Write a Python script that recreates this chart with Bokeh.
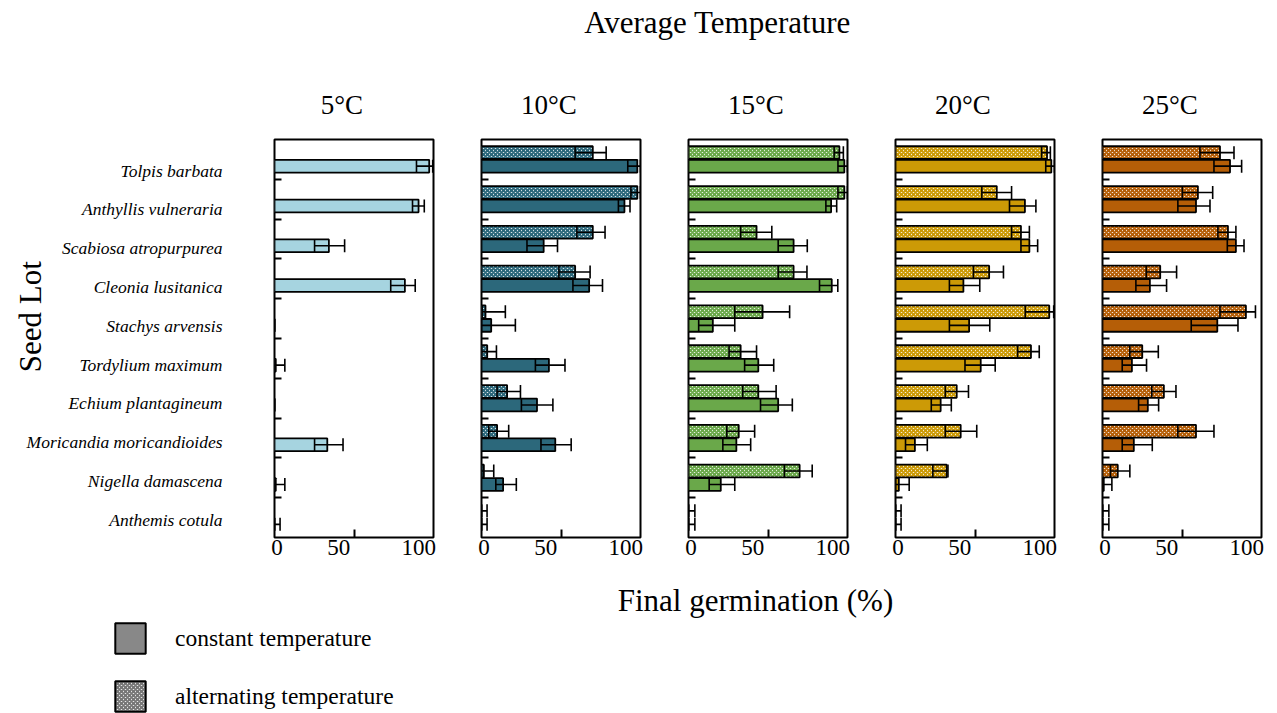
from math import pi

from bokeh.core.properties import value
from bokeh.embed import file_html
from bokeh.layouts import column, row
from bokeh.models import (ColumnDataSource, FixedTicker, Label, Legend,
                          LegendItem, Range1d, TeeHead, Whisker)
from bokeh.plotting import figure
from bokeh.resources import INLINE

# ---------------- data ----------------
SEED_LOTS = ["Tolpis barbata", "Anthyllis vulneraria", "Scabiosa atropurpurea",
             "Cleonia lusitanica", "Stachys arvensis", "Tordylium maximum",
             "Echium plantagineum", "Moricandia moricandioides",
             "Nigella damascena", "Anthemis cotula"]
TEMPS = ["5°C", "10°C", "15°C", "20°C", "25°C"]
COLORS = ["#a6d4e0", "#2c687b", "#6aa84a", "#cc9a06", "#b55e07"]
X_TICK_LABELS = ["0", "50", "100"]

# constant temperature: mean, lower and upper ends of error bars (%)
CONST_5_MEAN = [97.3, 90.6, 34.2, 82.0, 0, 0.8, 0, 33.2, 0.8, 0]
CONST_5_LO = [89.3, 86.8, 25.2, 73.1, 0, 0, 0, 25.2, 0, 0]
CONST_5_HI = [99.5, 94.2, 44.1, 88.5, 0, 6.5, 0, 43.1, 6.5, 3.5]

CONST_10_MEAN = [98, 89.9, 39.1, 67.7, 6.1, 42.4, 34.9, 46.4, 13.6, 0]
CONST_10_LO = [92, 86.1, 28.6, 57.5, 0, 33.9, 25.1, 37.4, 9.0, 0]
CONST_10_HI = [100, 93.4, 47.8, 76.1, 21.3, 52.5, 44.9, 56.4, 21.9, 3.5]

CONST_15_MEAN = [98, 89.7, 66.1, 90.1, 15.3, 43.9, 56.4, 30.1, 20.3, 0]
CONST_15_LO = [94, 86.4, 56.4, 82.4, 6.4, 35.3, 45.3, 21.6, 13.0, 0]
CONST_15_HI = [100, 93.2, 74.7, 93.9, 29.1, 53.6, 65.3, 39.1, 29.1, 4]

CONST_20_MEAN = [98, 81.4, 84.2, 42.7, 46.3, 53.6, 28.4, 12.2, 2.1, 0]
CONST_20_LO = [94.5, 71.7, 78.9, 33.9, 33.9, 43.7, 22.5, 6.3, 0, 0]
CONST_20_HI = [100, 88.3, 89.4, 53.0, 59.3, 62.7, 35.1, 20.0, 8.6, 3.5]

CONST_25_MEAN = [80.2, 58.8, 83.9, 29.8, 72.2, 18.5, 28.5, 19.7, 0.8, 0]
CONST_25_LO = [70.1, 47.4, 78.5, 21.0, 55.8, 12.4, 22.7, 12.4, 0, 0]
CONST_25_HI = [87.5, 67.6, 89.0, 40.3, 85.2, 27.7, 35.3, 31.3, 5.9, 4]

# alternating temperature (no alternating treatment at 5°C)
ALT_10_MEAN = [70.0, 98, 70.0, 58.9, 2.5, 3.6, 16.1, 9.8, 1.5, 0]
ALT_10_LO = [58.9, 94, 60.0, 48.7, 0.4, 0, 9.8, 4.6, 0, 0]
ALT_10_HI = [78.4, 100, 77.7, 68.3, 15.0, 9.4, 24.5, 17.1, 7.7, 3.5]

ALT_15_MEAN = [94.9, 98, 42.8, 66.1, 46.6, 32.8, 43.9, 31.6, 69.9, 0]
ALT_15_LO = [91.6, 94, 32.8, 56.4, 29.1, 25.5, 34.1, 24.1, 60.3, 0]
ALT_15_HI = [97.4, 100, 52.4, 74.5, 63.6, 42.8, 55.1, 41.6, 77.8, 4]

ALT_20_MEAN = [95.3, 63.7, 78.9, 58.9, 96.7, 85.2, 38.5, 41.0, 32.2, 0]
ALT_20_LO = [91.9, 54.3, 73.0, 49.0, 81.6, 76.8, 31.3, 31.3, 23.5, 0]
ALT_20_HI = [97.4, 73.0, 84.2, 67.9, 99.5, 90.4, 45.9, 51.1, 33.0, 3.5]

ALT_25_MEAN = [73.9, 60.0, 78.9, 36.3, 90.2, 25.0, 38.6, 58.8, 9.6, 0]
ALT_25_LO = [61.3, 50.2, 72.6, 27.5, 73.9, 17.2, 31.0, 47.4, 5.0, 0]
ALT_25_HI = [82.7, 69.3, 83.9, 46.6, 96.2, 35.1, 46.2, 70.1, 17.2, 4]

CONST = [(CONST_5_MEAN, CONST_5_LO, CONST_5_HI),
         (CONST_10_MEAN, CONST_10_LO, CONST_10_HI),
         (CONST_15_MEAN, CONST_15_LO, CONST_15_HI),
         (CONST_20_MEAN, CONST_20_LO, CONST_20_HI),
         (CONST_25_MEAN, CONST_25_LO, CONST_25_HI)]
ALT = [None,
       (ALT_10_MEAN, ALT_10_LO, ALT_10_HI),
       (ALT_15_MEAN, ALT_15_LO, ALT_15_HI),
       (ALT_20_MEAN, ALT_20_LO, ALT_20_HI),
       (ALT_25_MEAN, ALT_25_LO, ALT_25_HI)]

# ---------------- style / layout ----------------
FONT = "Liberation Serif"
N = len(SEED_LOTS)
IDX = list(range(N))
BAR_OFF = 0.17
BAR_H = 0.32
HATCH = dict(hatch_pattern="diagonal_cross", hatch_scale=4, hatch_weight=2)
TOP, FRAME_W, FRAME_H, BOTTOM = 3, 159, 398, 43
GAP = 48                      # space between neighbouring frames
HEADER_H, FOOT_H = 136, 133
LEFT_W = 264
FIRST_FRAME_X = LEFT_W + 10
TOTAL_W = LEFT_W + 193 + 3 * 207 + 187
LABEL_POS = [0.28 + 0.975 * i for i in IDX]   # placement of species labels
TITLE_FRAC = 0.424                            # panel-title x position in frame


def style_panel(p):
    p.grid.visible = False
    p.outline_line_color = "black"
    p.outline_line_width = 2
    p.background_fill_color = "white"
    p.border_fill_color = "white"
    xa = p.xaxis[0]
    label_pos = [1.5, 40.4, 90.8]
    xa.ticker = FixedTicker(ticks=label_pos, minor_ticks=[50])
    xa.major_label_overrides = {k: v for k, v in zip(label_pos, X_TICK_LABELS)}
    xa.axis_line_color = None
    xa.major_tick_line_color = None
    xa.major_tick_out = 0
    xa.minor_tick_in = 8
    xa.minor_tick_out = 0
    xa.minor_tick_line_width = 2
    xa.major_label_standoff = 2
    xa.major_label_text_font = FONT
    xa.major_label_text_font_size = "23px"
    xa.major_label_text_color = "black"

    ya = p.yaxis[0]
    ya.ticker = FixedTicker(ticks=[], minor_ticks=[i + 0.5 for i in IDX[:-1]])
    ya.axis_line_color = None
    ya.major_tick_line_color = None
    ya.major_tick_out = 0
    ya.minor_tick_in = 7
    ya.minor_tick_out = 0
    ya.minor_tick_line_width = 2
    ya.major_label_standoff = 0


def add_series(p, mean, lo, hi, offset, color, hatched):
    src = ColumnDataSource(dict(y=[i + offset for i in IDX], mean=mean,
                                lo=lo, hi=[min(h, 100) for h in hi]))
    kw = dict(y="y", left=0, right="mean", height=BAR_H, source=src,
              line_color="black", line_width=1.8)
    if hatched:
        p.hbar(fill_color="white", hatch_color=color, **HATCH, **kw)
    else:
        p.hbar(fill_color=color, **kw)
    w = Whisker(source=src, base="y", lower="lo", upper="hi", dimension="width",
                line_color="black", line_width=1.6, level="overlay",
                lower_head=TeeHead(size=13, line_width=1.6, line_color="black"),
                upper_head=TeeHead(size=13, line_width=1.6, line_color="black"))
    p.add_layout(w)


def blank(p):
    p.grid.visible = False
    p.outline_line_color = None
    p.background_fill_color = "white"
    p.border_fill_color = "white"


# left strip: species names and "Seed Lot"
left = figure(width=LEFT_W, frame_height=FRAME_H, min_border_top=TOP,
              min_border_bottom=BOTTOM, min_border_left=0, min_border_right=0,
              x_range=Range1d(0, LEFT_W), y_range=Range1d(9.5, -0.5),
              x_axis_location=None, y_axis_location=None,
              output_backend="svg", toolbar_location=None)
blank(left)
left.text(x=[222] * N, y=LABEL_POS, text=SEED_LOTS, text_align="right",
          text_baseline="middle", text_font=value(FONT),
          text_font_style="italic", text_font_size="17.5px", text_color="black")
left.add_layout(Label(x=30, y=3.95, text="Seed Lot", angle=pi / 2,
                      text_font=FONT, text_font_size="31px",
                      text_align="center", text_baseline="middle",
                      text_color="black"))

panels = [left]
for k, temp in enumerate(TEMPS):
    first = k == 0
    last = k == len(TEMPS) - 1
    p = figure(frame_width=FRAME_W, frame_height=FRAME_H,
               x_range=Range1d(0, 100), y_range=Range1d(9.5, -0.5),
               min_border_left=10 if first else GAP // 2,
               min_border_right=4 if last else GAP // 2,
               min_border_top=TOP, min_border_bottom=BOTTOM,
               output_backend="svg", toolbar_location=None)
    style_panel(p)
    if ALT[k] is not None:
        add_series(p, *ALT[k], -BAR_OFF, COLORS[k], True)
    add_series(p, *CONST[k], BAR_OFF, COLORS[k], False)
    panels.append(p)

# header: overall title + panel titles
header = figure(width=TOTAL_W, height=HEADER_H, x_range=Range1d(0, TOTAL_W),
                y_range=Range1d(HEADER_H, 0), min_border=0, x_axis_location=None,
                y_axis_location=None, output_backend="svg",
                toolbar_location=None)
blank(header)
header.add_layout(Label(x=717, y=22, text="Average Temperature", text_font=FONT,
                        text_font_size="31px", text_align="center",
                        text_baseline="middle", text_color="black"))
title_x = [FIRST_FRAME_X + k * (FRAME_W + GAP) + TITLE_FRAC * FRAME_W
           for k in range(len(TEMPS))]
header.text(x=title_x, y=[104] * len(TEMPS), text=TEMPS, text_align="center",
            text_baseline="middle", text_font=value(FONT),
            text_font_size="27px", text_color="black")

# footer (x label + legend)
footer = figure(width=TOTAL_W, height=FOOT_H, x_range=Range1d(0, TOTAL_W),
                y_range=Range1d(FOOT_H, 0), min_border=0, x_axis_location=None,
                y_axis_location=None, output_backend="svg",
                toolbar_location=None)
blank(footer)
footer.add_layout(Label(x=755, y=20, text="Final germination (%)", text_font=FONT,
                        text_font_size="31px", text_align="center",
                        text_baseline="middle", text_color="black"))
nan_src = ColumnDataSource(dict(y=[float("nan")], right=[float("nan")]))
r_const = footer.hbar(y="y", left=0, right="right", height=1, source=nan_src,
                      fill_color="#888888", line_color="black", line_width=2)
r_alt = footer.hbar(y="y", left=0, right="right", height=1, source=nan_src,
                    fill_color="white", hatch_color="#777777", line_color="black",
                    line_width=2, **HATCH)
legend = Legend(items=[LegendItem(label="constant temperature", renderers=[r_const], index=0),
                       LegendItem(label="alternating temperature", renderers=[r_alt], index=0)],
                location=(111, -2), orientation="vertical",
                glyph_width=38, glyph_height=38, label_height=38,
                label_standoff=26, spacing=20, padding=0, margin=0,
                border_line_color=None, background_fill_alpha=0,
                label_text_font=FONT, label_text_font_size="23.5px",
                label_text_color="black")
footer.add_layout(legend, "center")

layout = column(header, row(*panels), footer)
open("out.html", "w").write(file_html(layout, INLINE))
